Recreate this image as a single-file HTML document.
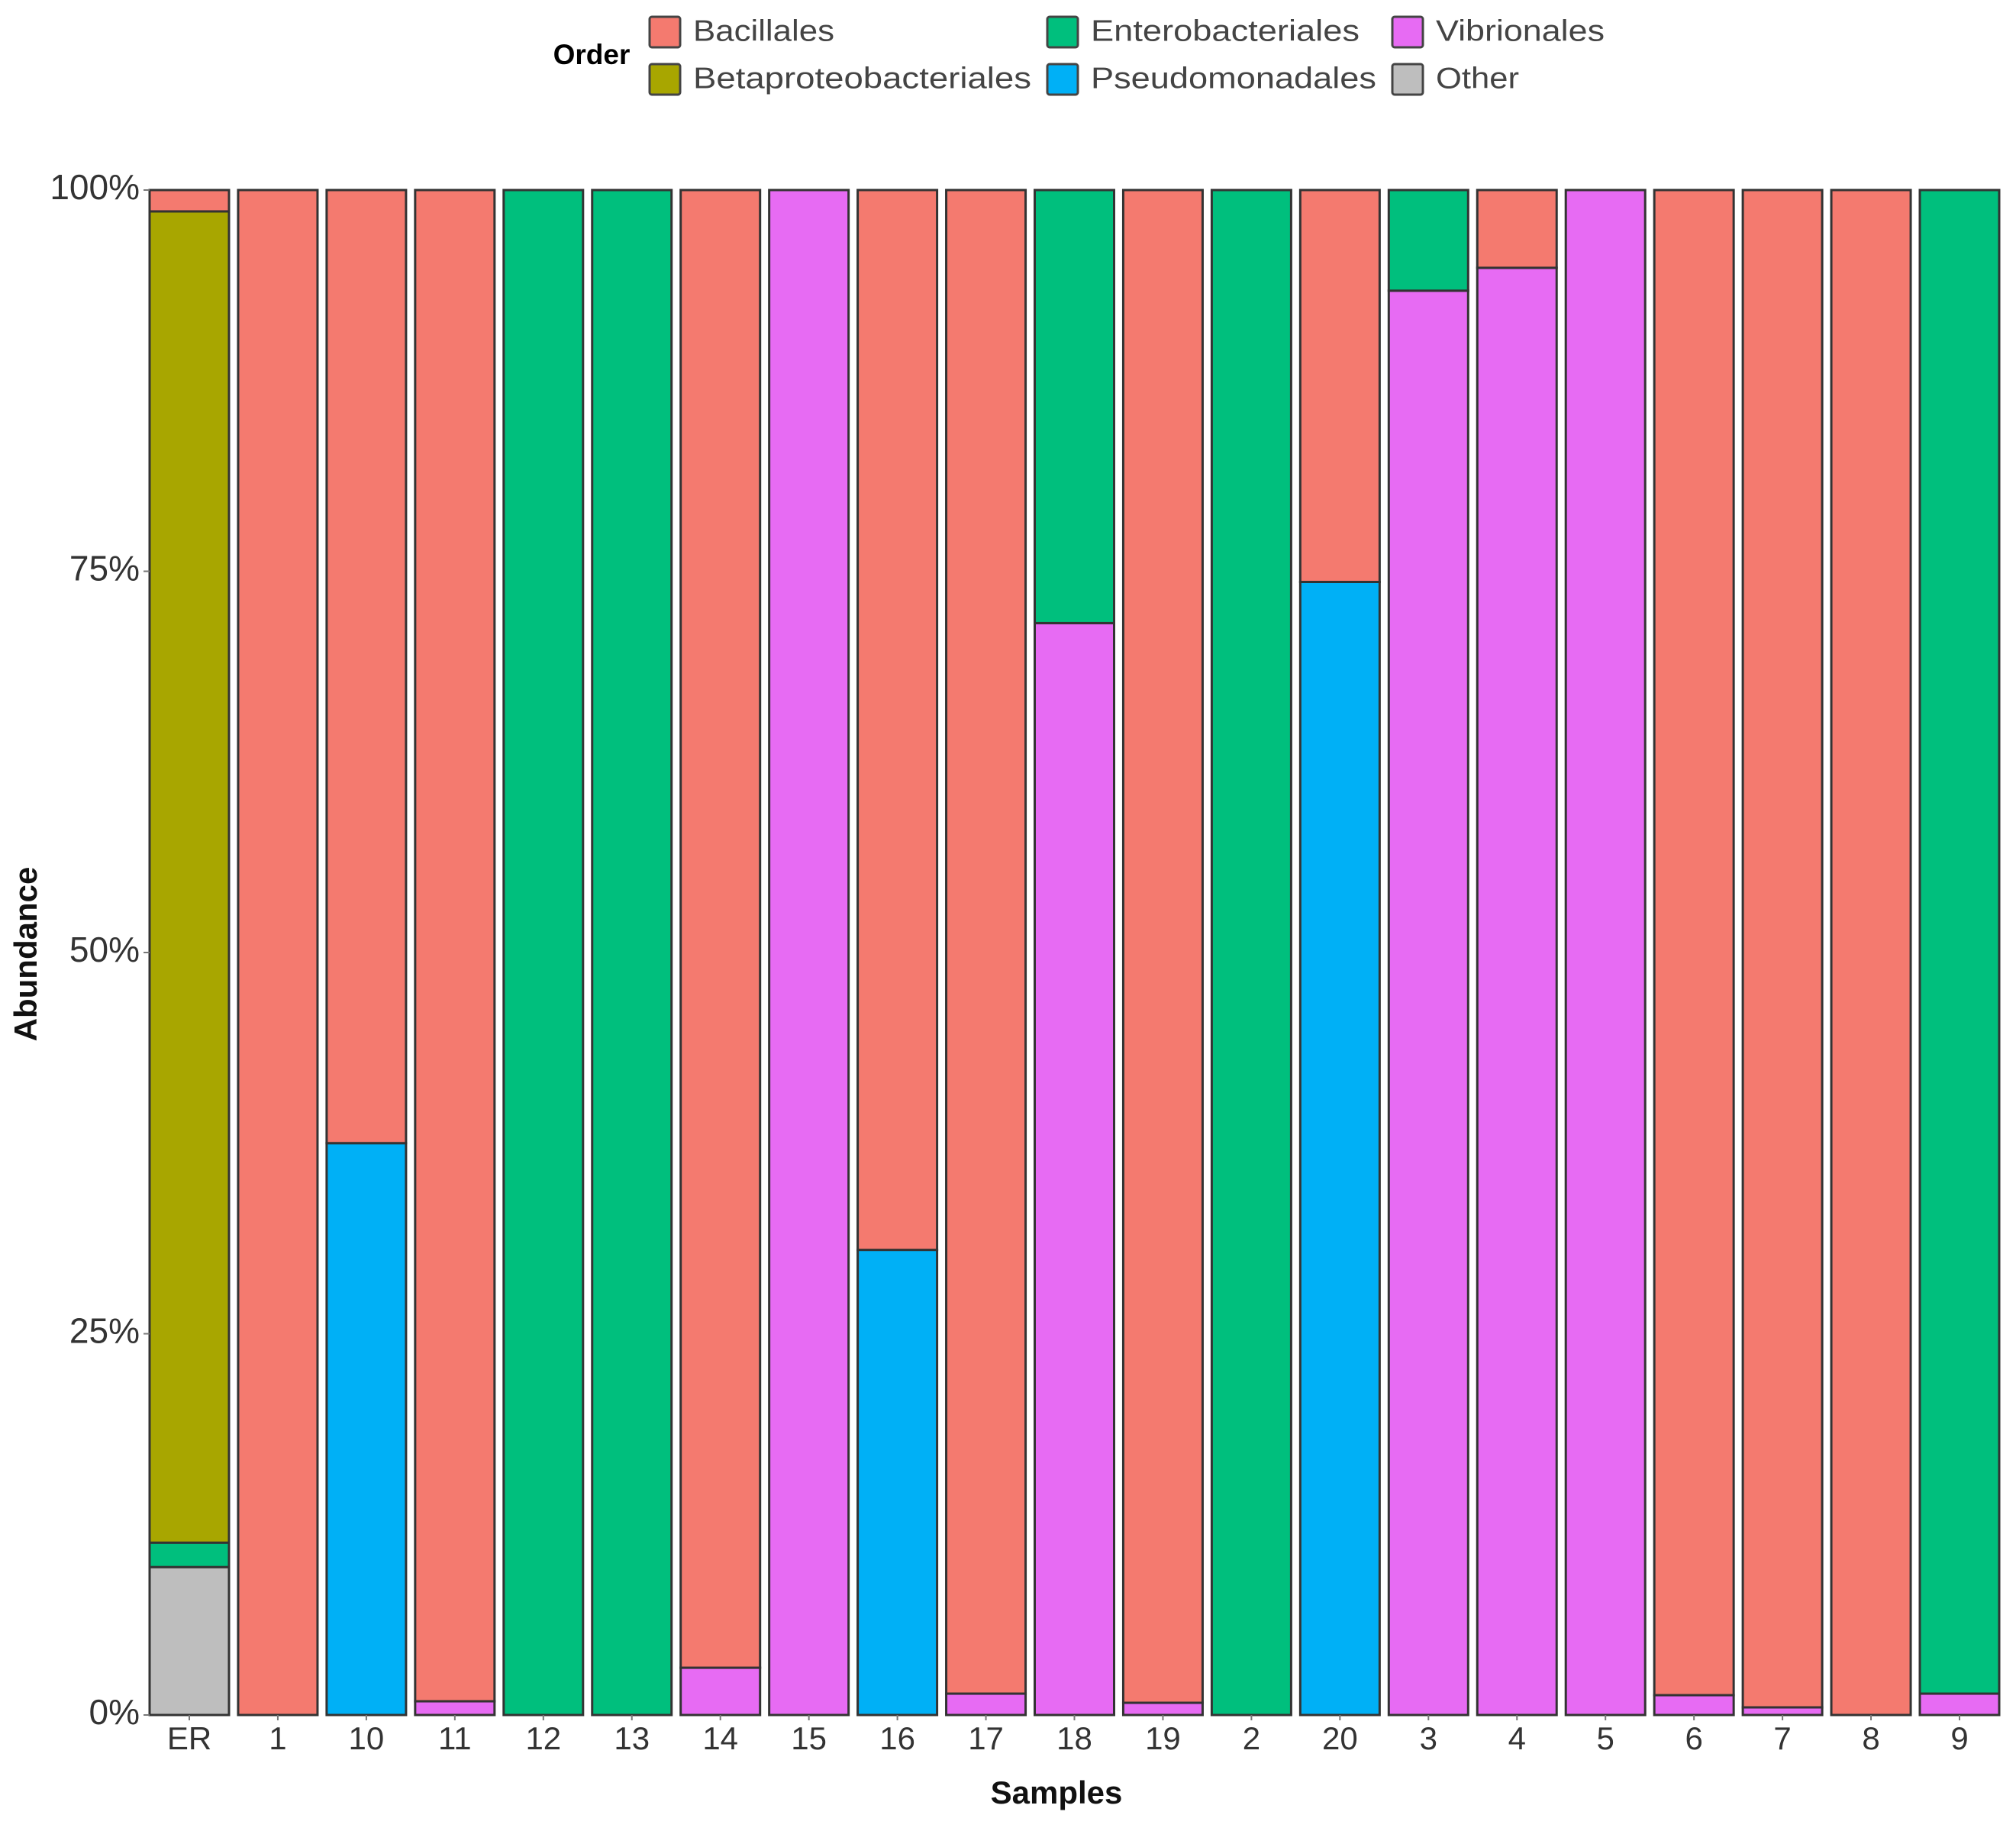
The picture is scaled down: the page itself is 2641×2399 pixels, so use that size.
<!DOCTYPE html>
<html><head><meta charset="utf-8"><style>
html,body{margin:0;padding:0;background:#fff;}
svg{display:block;font-family:"Liberation Sans",sans-serif;}
</style></head><body>
<svg id="chart" width="2641" height="2399" viewBox="0 0 2641 2399">
<g id="legend"></g>
<g id="bars"></g>
<g id="axes"></g>
<text x="37" y="1250" transform="rotate(-90 37 1250)" text-anchor="middle" dominant-baseline="middle" font-size="42" font-weight="bold" fill="#111">Abundance</text>
<text x="1384" y="2352" text-anchor="middle" dominant-baseline="middle" font-size="42" font-weight="bold" fill="#111">Samples</text>
</svg>
<script>
const samples = ["ER","1","10","11","12","13","14","15","16","17","18","19","2","20","3","4","5","6","7","8","9"];
const orders = ["Other","Vibrionales","Pseudomonadales","Enterobacteriales","Betaproteobacteriales","Bacillales"];
const other    = [9.7,0,0,0,0,0,0,0,0,0,0,0,0,0,0,0,0,0,0,0,0];
const vibrio   = [0,0,0,0.9,0,0,3.1,100,0,1.4,71.6,0.8,0,0,93.4,94.9,100,1.3,0.5,0,1.4];
const pseudo   = [0,0,37.5,0,0,0,0,0,30.5,0,0,0,0,74.3,0,0,0,0,0,0,0];
const entero   = [1.6,0,0,0,100,100,0,0,0,0,28.4,0,100,0,6.6,0,0,0,0,0,98.6];
const beta     = [87.3,0,0,0,0,0,0,0,0,0,0,0,0,0,0,0,0,0,0,0,0];
const bacill   = [1.4,100,62.5,99.1,0,0,96.9,0,69.5,98.6,0,99.2,0,25.7,0,5.1,0,98.7,99.5,100,0];
const yTicks = [0,25,50,75,100];
const yTickLabels = ["0%","25%","50%","75%","100%"];
const legendOrder = ["Bacillales","Betaproteobacteriales","Enterobacteriales","Pseudomonadales","Vibrionales","Other"];

const colors = {Other:"#bebebe",Vibrionales:"#e76bf3",Pseudomonadales:"#00b0f6",Enterobacteriales:"#00bf7d",Betaproteobacteriales:"#a8a600",Bacillales:"#f47a6f"};
const legendWidths = {Bacillales:185,Betaproteobacteriales:443,Enterobacteriales:352,Pseudomonadales:374,Vibrionales:221,Other:109};
const series = {Other:other,Vibrionales:vibrio,Pseudomonadales:pseudo,Enterobacteriales:entero,Betaproteobacteriales:beta,Bacillales:bacill};
const NS="http://www.w3.org/2000/svg";
const y0=2247, y1=249, step=115.95, c0=248, bw=104;
const yScale = v => y0 - (v/100)*(y0-y1);
const xScale = i => c0 + i*step;
function mk(tag, attrs, parent){const e=document.createElementNS(NS,tag);for(const k in attrs)e.setAttribute(k,attrs[k]);parent.appendChild(e);return e;}
const bars=document.getElementById('bars'), axes=document.getElementById('axes'), legend=document.getElementById('legend');

samples.forEach((s,i)=>{
  let cum=0;
  orders.forEach(o=>{
    const v=series[o][i];
    if(v<=0) return;
    const top=yScale(cum+v), bot=yScale(cum);
    const r=mk('rect',{x:xScale(i)-bw/2,y:top,width:bw,height:bot-top,fill:colors[o],stroke:"#333",'stroke-width':3},bars);
    
    
    cum+=v;
  });
  const t=mk('text',{x:xScale(i),y:2281,'text-anchor':'middle','dominant-baseline':'middle','font-size':42,fill:'#333'},axes);
  t.textContent=s;
  
  
  const tk=mk('line',{x1:xScale(i),x2:xScale(i),y1:2247,y2:2254,stroke:'#777','stroke-width':2},axes);
  
  
});
yTicks.forEach((v,k)=>{
  const t=mk('text',{x:183,y:yScale(v),'text-anchor':'end','dominant-baseline':'middle','font-size':46,fill:'#333'},axes);
  t.textContent=yTickLabels[k];
  
  
  const tk=mk('line',{x1:188,x2:196,y1:yScale(v),y2:yScale(v),stroke:'#777','stroke-width':2},axes);
  
  
});
const ol=mk('text',{x:775,y:74,'text-anchor':'middle','dominant-baseline':'middle','font-size':37,'font-weight':'bold',fill:'#000'},legend);
ol.textContent="Order";


const colX=[851,1372,1824], rowY=[22,84];
legendOrder.forEach((o,k)=>{
  const c=Math.floor(k/2), r=k%2;
  const g=mk('g',{},legend);
  
  
  mk('rect',{x:colX[c],y:rowY[r],width:40,height:40,rx:3,fill:colors[o],stroke:'#444','stroke-width':3},g);
  const t=mk('text',{x:colX[c]+57,y:rowY[r]+21,'dominant-baseline':'middle','font-size':39,fill:'#444',textLength:legendWidths[o],lengthAdjust:'spacingAndGlyphs'},g);
  t.textContent=o;
});
</script>
</body></html>
